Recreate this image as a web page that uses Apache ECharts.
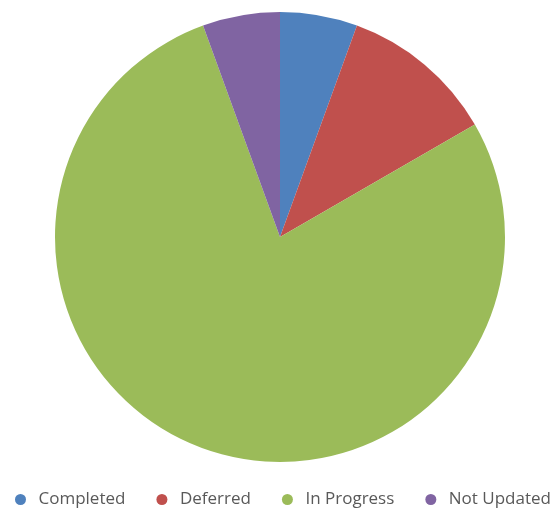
<!DOCTYPE html>
<html>
<head>
<meta charset="utf-8">
<script src="https://cdn.jsdelivr.net/npm/echarts@6/dist/echarts.min.js"></script>
<style>html,body{margin:0;padding:0;background:#fff}#c{width:555px;height:508px}</style>
</head>
<body>
<div id="c"></div>
<script>
const categories = ['Completed', 'Deferred', 'In Progress', 'Not Updated'];
const values = [1, 2, 14, 1];
const colors = ['#4F81BD', '#C0504D', '#9BBB59', '#8064A2'];

const chart = echarts.init(document.getElementById('c'));
chart.setOption({
  animation: false,
  color: colors,
  legend: {
    top: 491,
    left: 15,
    icon: 'circle',
    itemWidth: 26,
    itemHeight: 11,
    itemGap: 31,
    padding: 0,
    textStyle: { fontFamily: 'Open Sans', fontSize: 17, color: '#595959' },
    data: categories
  },
  series: [{
    type: 'pie',
    center: [280, 237],
    radius: 225,
    startAngle: 90,
    clockwise: true,
    label: { show: false },
    labelLine: { show: false },
    emphasis: { disabled: true },
    itemStyle: { borderWidth: 0 },
    data: categories.map((c, i) => ({ name: c, value: values[i] }))
  }]
});
</script>
</body>
</html>
